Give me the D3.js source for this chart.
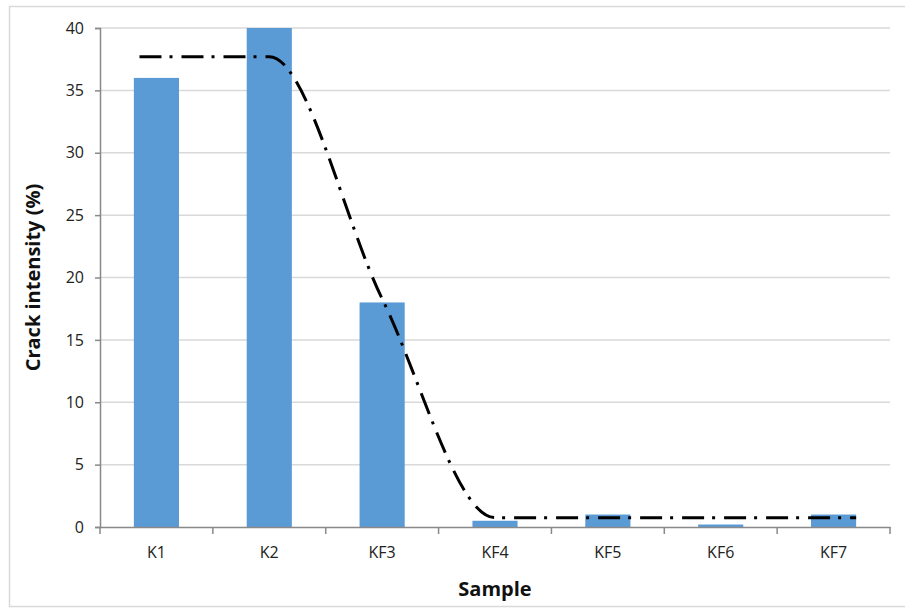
<!DOCTYPE html>
<html>
<head>
<meta charset="utf-8">
<script src="https://cdn.jsdelivr.net/npm/d3@7"></script>
<style>
  html, body { margin: 0; padding: 0; background: #fff; }
  svg { display: block; }
  text { font-family: "Open Sans", "Liberation Sans", sans-serif; }
</style>
</head>
<body>
<svg id="chart" width="905" height="608"></svg>
<script>
// ---- data ----
const categories = ["K1", "K2", "KF3", "KF4", "KF5", "KF6", "KF7"];
const crackIntensity = [36, 40, 18, 0.5, 1, 0.2, 1];
// trend curve (x in category-index units, 1 = K1)
const trendX = [0.85, 2, 3, 4, 5, 6, 7.2];
const trendY = [37.7, 37.7, 18.3, 0.75, 0.75, 0.75, 0.75];
const yTicks = [0, 5, 10, 15, 20, 25, 30, 35, 40];
const yTitle = "Crack intensity (%)";
const xTitle = "Sample";

// ---- layout ----
const svg = d3.select("#chart");
const plotL = 100, plotR = 890, plotT = 28, plotB = 527;

svg.append("rect")
  .attr("x", 9.5).attr("y", 6.5).attr("width", 905).attr("height", 600)
  .attr("fill", "none").attr("stroke", "#d9d9d9").attr("stroke-width", 1.5);

const x = d3.scaleBand().domain(categories).range([plotL, plotR]).paddingInner(0.6).paddingOuter(0.3);
const step = (plotR - plotL) / categories.length;
const xIdx = d3.scaleLinear().domain([1, 7]).range([plotL + step / 2, plotL + step * 6.5]);
const y = d3.scaleLinear().domain([0, 40]).range([plotB, plotT]);

// gridlines
svg.append("g").selectAll("line").data(yTicks.filter(d => d > 0)).join("line")
  .attr("x1", plotL).attr("x2", plotR)
  .attr("y1", d => y(d)).attr("y2", d => y(d))
  .attr("stroke", "#d9d9d9").attr("stroke-width", 1.5);

// bars
svg.append("g").selectAll("rect").data(categories).join("rect")
  .attr("x", d => x(d))
  .attr("width", x.bandwidth())
  .attr("y", (d, i) => y(crackIntensity[i]))
  .attr("height", (d, i) => y(0) - y(crackIntensity[i]))
  .attr("fill", "#5b9bd5");

// y axis
const yAxis = svg.append("g").attr("transform", `translate(${plotL},0)`)
  .call(d3.axisLeft(y).tickValues(yTicks).tickSize(5).tickPadding(11));
yAxis.select(".domain").attr("stroke", "#898989").attr("stroke-width", 1.5);
yAxis.selectAll(".tick line").attr("stroke", "#898989").attr("stroke-width", 1.5);
yAxis.selectAll(".tick text").attr("font-size", 16).attr("fill", "#222")
  .attr("font-family", "'Open Sans', sans-serif");

// x axis
const xAxis = svg.append("g").attr("transform", `translate(0,${plotB})`)
  .call(d3.axisBottom(x).tickSize(0).tickPadding(20));
xAxis.select(".domain").attr("stroke", "#898989").attr("stroke-width", 1.5);
xAxis.selectAll(".tick text").attr("font-size", 16).attr("fill", "#222")
  .attr("font-family", "'Open Sans', sans-serif");
// category boundary tick marks
svg.append("g").selectAll("line").data(d3.range(categories.length + 1)).join("line")
  .attr("x1", i => plotL + i * step).attr("x2", i => plotL + i * step)
  .attr("y1", plotB).attr("y2", plotB + 7)
  .attr("stroke", "#898989").attr("stroke-width", 1.5);

// trend curve
const line = d3.line()
  .x((d, i) => xIdx(trendX[i]))
  .y(d => y(d))
  .curve(d3.curveMonotoneX);
svg.append("path").datum(trendY)
  .attr("d", line)
  .attr("fill", "none").attr("stroke", "#000").attr("stroke-width", 3)
  .attr("stroke-dasharray", "22,8,3,9");

// axis titles
svg.append("text")
  .attr("x", (plotL + plotR) / 2).attr("y", 596)
  .attr("text-anchor", "middle").attr("font-size", 20).attr("font-weight", "bold")
  .attr("fill", "#111").text(xTitle);
svg.append("text")
  .attr("transform", `translate(40,${(plotT + plotB) / 2}) rotate(-90)`)
  .attr("text-anchor", "middle").attr("font-size", 20).attr("font-weight", "bold")
  .attr("fill", "#111").text(yTitle);
</script>
</body>
</html>
